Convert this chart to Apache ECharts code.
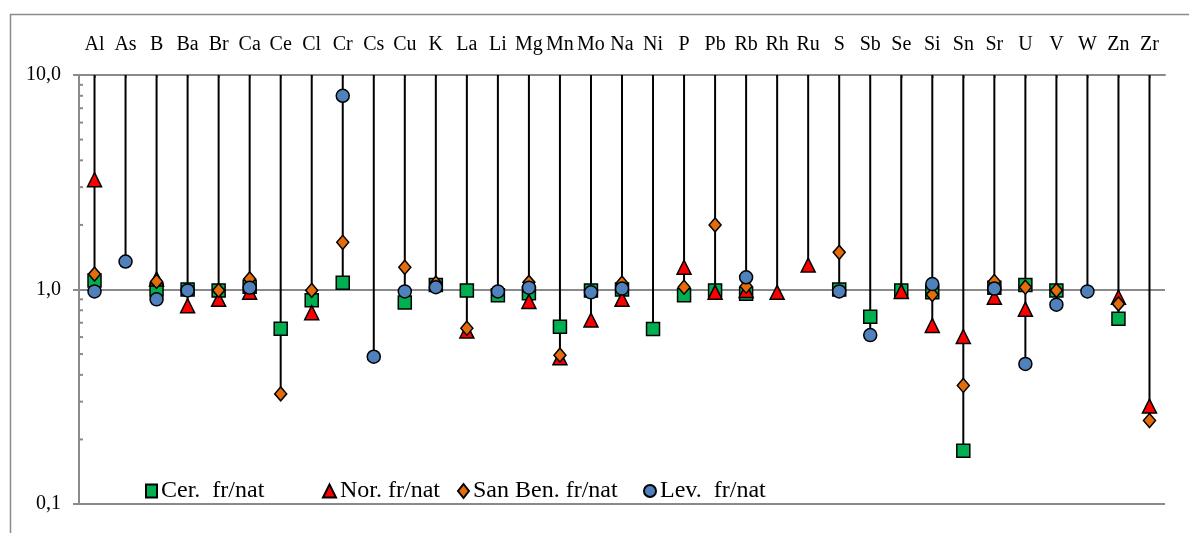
<!DOCTYPE html>
<html>
<head>
<meta charset="utf-8">
<script src="https://cdn.jsdelivr.net/npm/echarts@6/dist/echarts.min.js"></script>
<style>html,body{margin:0;padding:0;background:#fff;}#c{width:1189px;height:533px;}</style>
</head>
<body>
<div id="c"></div>
<script>
const categories = ['Al','As','B','Ba','Br','Ca','Ce','Cl','Cr','Cs','Cu','K','La','Li','Mg','Mn','Mo','Na','Ni','P','Pb','Rb','Rh','Ru','S','Sb','Se','Si','Sn','Sr','U','V','W','Zn','Zr'];
const cerValues =    [1.10,null,1.00,1.00,0.99,1.03,0.656,0.89,1.075,null,0.87,1.05,0.99,0.94,0.96,0.67,0.99,1.00,0.654,0.94,0.99,0.955,null,null,1.00,0.747,0.99,0.97,0.177,1.02,1.05,0.99,null,0.73,null];
const norValues =    [3.25,null,1.12,0.84,0.90,0.97,null,0.78,null,null,null,null,0.64,null,0.88,0.48,0.72,0.90,null,1.27,0.97,0.99,0.97,1.30,null,null,0.98,0.68,0.604,0.92,0.81,null,null,0.92,0.286];
const sanBenValues = [1.18,null,1.09,null,0.99,1.12,0.326,0.99,1.66,null,1.27,1.07,0.66,null,1.08,0.494,null,1.07,null,1.025,2.00,1.036,null,null,1.49,null,null,0.947,0.357,1.09,1.025,0.99,null,0.857,0.245];
const levValues =    [0.98,1.35,0.90,0.99,null,1.02,null,null,8.0,0.486,0.98,1.025,null,0.98,1.02,null,0.97,1.01,null,null,null,1.14,null,null,0.98,0.613,null,1.06,null,1.01,0.45,0.85,0.98,null,null];
const seriesNames = ['Cer.  fr/nat','Nor. fr/nat','San Ben. fr/nat','Lev.  fr/nat'];
const yTop = 10;
const minorTickValues = [0.2,0.3,0.4,0.5,0.6,0.7,0.8,0.9,2,3,4,5,6,7,8,9];

const allSeries = [cerValues, norValues, sanBenValues, levValues];
const dropData = categories.map((c, i) => {
  const vals = allSeries.map(s => s[i]).filter(v => v != null);
  return [i, Math.min.apply(null, vals)];
});

const FONT = 'Liberation Serif';
const GRAY = '#8a8a8a';
const legendLefts = [140, 317, 452, 638];
const legendIcons = ['rect', 'triangle', 'diamond', 'circle'];
const legendSizes = [[11, 13], [13, 13], [11, 14], [12, 13]];
const chart = echarts.init(document.getElementById('c'), null, {renderer: 'canvas'});

function markerSeries(name, data, symbol, size, color, z) {
  return {
    name: name, type: 'line', data: data, symbol: symbol, symbolSize: size,
    lineStyle: {width: 0, opacity: 0}, showSymbol: true, connectNulls: false,
    itemStyle: {color: color, borderColor: '#000', borderWidth: 1.5},
    emphasis: {disabled: true}, z: z, animation: false
  };
}

chart.setOption({
  animation: false,
  graphic: [{type: 'rect', left: 8, top: 12, shape: {width: 1200, height: 560}, style: {fill: 'none', stroke: GRAY, lineWidth: 1.5}, silent: true}],
  grid: {left: 79, right: 24, top: 75, bottom: 29},
  legend: seriesNames.map((n, k) => ({
    data: [{name: n, icon: legendIcons[k]}],
    left: legendLefts[k], top: 474, itemWidth: legendSizes[k][0], itemHeight: legendSizes[k][1], itemGap: 0,
    textStyle: {fontFamily: FONT, fontSize: 24, color: '#000', padding: [0,0,0,-1]},
    selectedMode: false
  })),
  xAxis: {
    type: 'category', data: categories, position: 'top', boundaryGap: true,
    axisLine: {lineStyle: {color: GRAY, width: 2}},
    axisTick: {show: true, inside: true, alignWithLabel: true, length: 3, lineStyle: {color: GRAY, width: 2}},
    axisLabel: {fontFamily: FONT, fontSize: 20, color: '#000', margin: 20, interval: 0},
    splitLine: {show: false}
  },
  yAxis: {
    type: 'log', logBase: 10, min: 0.1, max: 10,
    axisLine: {show: true, lineStyle: {color: GRAY, width: 2}},
    axisTick: {show: true, length: 6, lineStyle: {color: GRAY, width: 2}},
    axisLabel: {fontFamily: FONT, fontSize: 20, color: '#000', margin: 18,
      formatter: v => Number(v).toFixed(1).replace('.', ',')},
    splitLine: {show: true, lineStyle: {color: GRAY, width: 2}},
    minorTick: {show: false}
  },
  series: [
    {
      type: 'custom', name: 'drop', data: dropData, encode: {x: 0, y: 1}, z: 1, silent: true,
      renderItem: function (params, api) {
        const i = api.value(0), lo = api.value(1);
        const p1 = api.coord([i, yTop]);
        const p2 = api.coord([i, lo]);
        return {type: 'line', shape: {x1: p1[0], y1: p1[1], x2: p2[0], y2: p2[1]}, style: {stroke: '#000', lineWidth: 2}};
      }
    },
    {
      type: 'custom', name: 'minor', data: minorTickValues.map(v => [0, v]), encode: {x: 0, y: 1}, z: 1, silent: true,
      renderItem: function (params, api) {
        const y = api.coord([0, api.value(1)])[1];
        const x = params.coordSys.x;
        return {type: 'line', shape: {x1: x, y1: y, x2: x + 4, y2: y}, style: {stroke: GRAY, lineWidth: 2}};
      }
    },
    markerSeries(seriesNames[0], cerValues, 'rect', 13, '#00B050', 3),
    markerSeries(seriesNames[1], norValues, 'triangle', 14, '#FF0000', 4),
    markerSeries(seriesNames[2], sanBenValues, 'diamond', [12, 14], '#E46C0A', 5),
    markerSeries(seriesNames[3], levValues, 'circle', 13, '#4F81BD', 6)
  ]
});
</script>
</body>
</html>
